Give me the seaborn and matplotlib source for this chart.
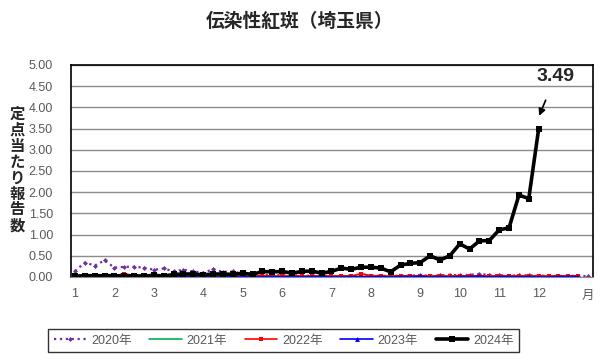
import numpy as np
import pandas as pd
import seaborn as sns
import matplotlib.pyplot as plt

# 週ごとの定点当たり報告数
y2020 = [0.14, 0.34, 0.27, 0.39, 0.22, 0.24, 0.24, 0.22, 0.17, 0.20,
         0.13, 0.17, 0.13, 0.10, 0.18, 0.12, 0.13, 0.07, 0.06, 0.05,
         0.05, 0.04, 0.04, 0.03, 0.03, 0.03, 0.02, 0.02, 0.03, 0.02,
         0.03, 0.03, 0.02, 0.03, 0.03, 0.04, 0.03, 0.04, 0.05, 0.04,
         0.05, 0.07, 0.05, 0.04, 0.03, 0.04, 0.04, 0.03, 0.03, 0.02,
         0.03, 0.02, 0.02]
y2021 = [0.02, 0.01, 0.02, 0.01, 0.02, 0.02, 0.01, 0.02, 0.01, 0.01,
         0.02, 0.01, 0.01, 0.02, 0.01, 0.01, 0.02, 0.01, 0.01, 0.01,
         0.02, 0.01, 0.01, 0.02, 0.01, 0.01, 0.02, 0.01, 0.01, 0.01,
         0.02, 0.01, 0.01, 0.02, 0.01, 0.02, 0.01, 0.02, 0.01, 0.02,
         0.01, 0.02, 0.01, 0.02, 0.01, 0.02, 0.01, 0.02, 0.01, 0.02,
         0.01, 0.02]
y2022 = [0.02, 0.03, 0.02, 0.03, 0.02, 0.08, 0.03, 0.02, 0.03, 0.02,
         0.03, 0.02, 0.02, 0.03, 0.02, 0.02, 0.03, 0.02, 0.02, 0.03,
         0.02, 0.02, 0.03, 0.02, 0.02, 0.03, 0.02, 0.03, 0.02, 0.08,
         0.03, 0.02, 0.02, 0.03, 0.02, 0.03, 0.02, 0.03, 0.02, 0.03,
         0.02, 0.03, 0.02, 0.03, 0.02, 0.03, 0.02, 0.03, 0.02, 0.03,
         0.02, 0.03]
y2023 = [0.01, 0.01, 0.00, 0.01, 0.01, 0.01, 0.00, 0.01, 0.01, 0.01,
         0.01, 0.00, 0.01, 0.01, 0.00, 0.00, 0.01, 0.00, 0.01, 0.00,
         0.01, 0.00, 0.01, 0.00, 0.01, 0.01, 0.00, 0.00, 0.01, 0.01,
         0.00, 0.01, 0.00, 0.01, 0.01, 0.02, 0.00, 0.01, 0.00, 0.01,
         0.01, 0.02, 0.00, 0.01, 0.01, 0.00, 0.01, 0.00, 0.00, 0.01,
         0.01, 0.01]
y2024 = [0.02, 0.03, 0.03, 0.03, 0.03, 0.02, 0.03, 0.02, 0.04, 0.02,
         0.06, 0.07, 0.07, 0.05, 0.07, 0.07, 0.06, 0.09, 0.06, 0.13,
         0.12, 0.13, 0.09, 0.13, 0.14, 0.09, 0.13, 0.21, 0.18, 0.23,
         0.23, 0.21, 0.12, 0.28, 0.32, 0.34, 0.50, 0.40, 0.50, 0.78,
         0.66, 0.85, 0.86, 1.11, 1.16, 1.93, 1.85, 3.49]

month_weeks = [1, 5, 9, 14, 18, 22, 27, 31, 36, 40, 44, 48]
month_labels = ['1', '2', '3', '4', '5', '6', '7', '8', '9', '10', '11', '12']

series = [
    ('2020年', y2020, dict(color='#7030A0', linestyle=':', linewidth=1.6, marker='D', markersize=2.5)),
    ('2021年', y2021, dict(color='#00B050', linestyle='-', linewidth=1.2, marker='_', markersize=4)),
    ('2022年', y2022, dict(color='#FF0000', linestyle='-', linewidth=1.2, marker='s', markersize=3)),
    ('2023年', y2023, dict(color='#0000FF', linestyle='-', linewidth=1.2, marker='^', markersize=3.5)),
    ('2024年', y2024, dict(color='black', linestyle='-', linewidth=2.6, marker='s', markersize=5)),
]

sns.set_style('white')
plt.rcParams['font.family'] = ['Liberation Sans', 'Noto Sans CJK JP', 'DejaVu Sans']

fig = plt.figure(figsize=(6.05, 3.63), dpi=100)
ax = fig.add_axes([0.1174, 0.237, 0.8626, 0.584])

for name, vals, st in series:
    weeks = np.arange(1, len(vals) + 1)
    sns.lineplot(x=weeks, y=vals, ax=ax, label=name, markeredgewidth=0, **st)

ax.set_xlim(0.6, 53.5)
ax.set_ylim(0, 5)
ax.set_yticks(np.arange(0, 5.01, 0.5))
ax.set_yticklabels([f'{v:.2f}' for v in np.arange(0, 5.01, 0.5)])
ax.yaxis.grid(True, color='#8c8c8c', linewidth=1)
ax.set_axisbelow(True)
ax.set_xticks(month_weeks)
ax.set_xticklabels(month_labels)
ax.tick_params(axis='both', length=0, labelsize=9, colors='#595959')
ax.tick_params(axis='y', pad=13)
ax.tick_params(axis='x', pad=8)
for s in ['left', 'top', 'right']:
    ax.spines[s].set_color('black')
    ax.spines[s].set_linewidth(1.2)
ax.spines['bottom'].set_color('#8c8c8c')
ax.text(53, -0.45, '月', ha='center', va='center', fontsize=9, color='#595959')

ax.set_xlabel('')
ax.set_ylabel('')
fig.text(0.028, 0.53, '\n'.join('定点当たり報告数'), ha='center', va='center',
         fontsize=11, fontweight='bold', linespacing=1.17)
fig.suptitle('伝染性紅斑（埼玉県）', x=0.495, y=0.965, fontsize=13.5, fontweight='bold')

ax.annotate('3.49', xy=(48.05, 3.8), xytext=(49.7, 4.72), ha='center', va='center',
            fontsize=14, fontweight='bold',
            arrowprops=dict(arrowstyle='-|>', color='black', lw=1.2, shrinkA=9, shrinkB=0,
                            mutation_scale=10))

ax.get_legend().remove()
h, l = ax.get_legend_handles_labels()
leg = fig.legend(h, l, loc='center', bbox_to_anchor=(0.469, 0.061), ncol=5, frameon=True,
                 fancybox=False, edgecolor='black', fontsize=9, handlelength=2.6,
                 columnspacing=1.4, handletextpad=0.4, borderpad=0.45)
leg.get_frame().set_linewidth(1.0)
for t in leg.get_texts():
    t.set_color('#595959')

fig.savefig('out.png', dpi=100)
